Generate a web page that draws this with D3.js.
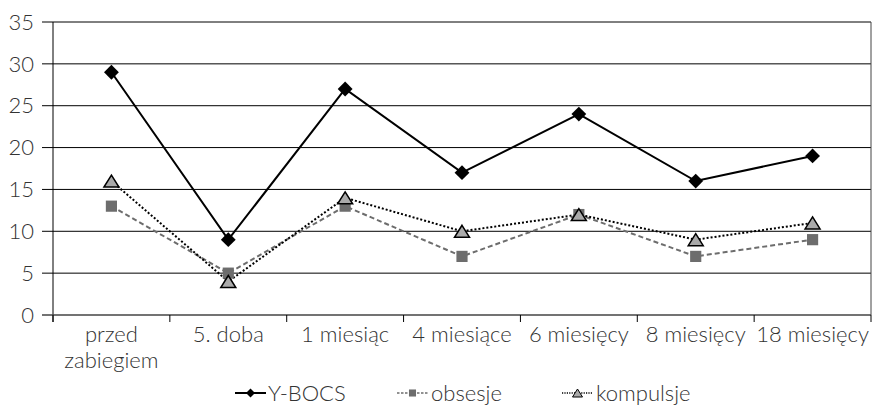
<!DOCTYPE html>
<html><head><meta charset="utf-8">
<script src="https://cdn.jsdelivr.net/npm/d3@7"></script>
<style>body{margin:0;background:#fff}svg{display:block}text{font-family:Lato,"Open Sans",sans-serif;font-weight:300;fill:#333}</style>
</head><body><svg id="c" width="873" height="416"></svg>
<script>
const categories = ["przed\nzabiegiem","5. doba","1 miesiąc","4 miesiące","6 miesięcy","8 miesięcy","18 miesięcy"];
const ybocs = [29, 9, 27, 17, 24, 16, 19];
const obsesje = [13, 5, 13, 7, 12, 7, 9];
const kompulsje = [16, 4, 14, 10, 12, 9, 11];
const yTicks = [0,5,10,15,20,25,30,35];
const seriesNames = ["Y-BOCS","obsesje","kompulsje"];

const svg = d3.select("#c");
const L=53, R=871, T=22, B=315;
const FS=22;
const x = d3.scaleBand().domain(categories).range([L,R]);
const y = d3.scaleLinear().domain([0,35]).range([B,T]);

svg.append("g").selectAll("line").data(yTicks.filter(d=>d>0)).join("line")
  .attr("x1",42).attr("x2",R).attr("y1",d=>y(d)).attr("y2",d=>y(d))
  .attr("stroke","#000").attr("stroke-width",1);
svg.append("g").selectAll("text").data(yTicks).join("text")
  .attr("x",34).attr("y",d=>y(d)).attr("dy","0.35em").attr("text-anchor","end")
  .attr("font-size",FS).text(d=>d);
svg.append("line").attr("x1",L).attr("x2",L).attr("y1",T).attr("y2",B+7).attr("stroke","#000");
svg.append("line").attr("x1",R).attr("x2",R).attr("y1",T).attr("y2",B).attr("stroke","#444");
svg.append("line").attr("x1",42).attr("x2",R).attr("y1",B).attr("y2",B).attr("stroke","#444").attr("stroke-width",1.5);
const bounds = categories.map(c=>x(c)).concat([R]);
svg.append("g").selectAll("line").data(bounds).join("line")
  .attr("x1",d=>d).attr("x2",d=>d).attr("y1",B).attr("y2",B+7).attr("stroke","#000");
const xl = svg.append("g").selectAll("text").data(categories).join("text")
  .attr("y",B+27).attr("text-anchor","middle").attr("font-size",FS);
xl.each(function(d){
  const parts=d.split("\n");
  d3.select(this).selectAll("tspan").data(parts).join("tspan")
    .attr("x",x(d)+x.bandwidth()/2).attr("dy",(p,i)=>i?"1.2em":0).text(p=>p);
});

const cx = c=>x(c)+x.bandwidth()/2;
const line = d3.line().x((d,i)=>cx(categories[i])).y(d=>y(d));
const diamond = d3.symbol().type(d3.symbolSquare).size(110);
const square = d3.symbol().type(d3.symbolSquare).size(125);
const triPath = (w,h)=>`M0,${-h/2}L${w/2},${h/2}L${-w/2},${h/2}Z`;

svg.append("path").datum(obsesje).attr("d",line).attr("fill","none").attr("stroke","#6d6d6d").attr("stroke-width",2).attr("stroke-dasharray","5,3");
svg.append("path").datum(kompulsje).attr("d",line).attr("fill","none").attr("stroke","#000").attr("stroke-width",2).attr("stroke-dasharray","2,2");
svg.append("path").datum(ybocs).attr("d",line).attr("fill","none").attr("stroke","#000").attr("stroke-width",2);

svg.append("g").selectAll("path").data(obsesje).join("path")
  .attr("transform",(d,i)=>`translate(${cx(categories[i])},${y(d)})`).attr("d",square).attr("fill","#6d6d6d");
svg.append("g").selectAll("path").data(kompulsje).join("path")
  .attr("transform",(d,i)=>`translate(${cx(categories[i])},${y(d)})`).attr("d",triPath(15,12)).attr("fill","#aaa").attr("stroke","#000").attr("stroke-width",1.5).attr("stroke-linejoin","miter");
svg.append("g").selectAll("path").data(ybocs).join("path")
  .attr("transform",(d,i)=>`translate(${cx(categories[i])},${y(d)}) rotate(45)`).attr("d",diamond).attr("fill","#000");

const ly=393;
const leg = [
  {name:seriesNames[0], x:235, tx:268, stroke:"#000", dash:null, type:"d", fill:"#000", lw:2},
  {name:seriesNames[1], x:397, tx:431, stroke:"#6d6d6d", dash:"2.5,1.5", type:"s", fill:"#6d6d6d", lw:1.5},
  {name:seriesNames[2], x:562, tx:596, stroke:"#000", dash:"1.2,1.2", type:"t", fill:"#aaa", lw:1.5}
];
leg.forEach(l=>{
  const g=svg.append("g");
  g.append("line").attr("x1",l.x).attr("x2",l.x+31).attr("y1",ly).attr("y2",ly).attr("stroke",l.stroke).attr("stroke-width",l.lw).attr("stroke-dasharray",l.dash);
  const p = g.append("path").attr("transform",`translate(${l.x+15.5},${ly})`+(l.type==="d"?" rotate(45)":""))
    .attr("fill",l.fill);
  if(l.type==="t") p.attr("d",triPath(10,8)).attr("stroke","#000").attr("stroke-width",1);
  else p.attr("d",d3.symbol().type(d3.symbolSquare).size(l.type==="d"?40:50));
  g.append("text").attr("x",l.tx).attr("y",ly).attr("dy","0.35em").attr("font-size",FS).text(l.name);
});
</script></body></html>
